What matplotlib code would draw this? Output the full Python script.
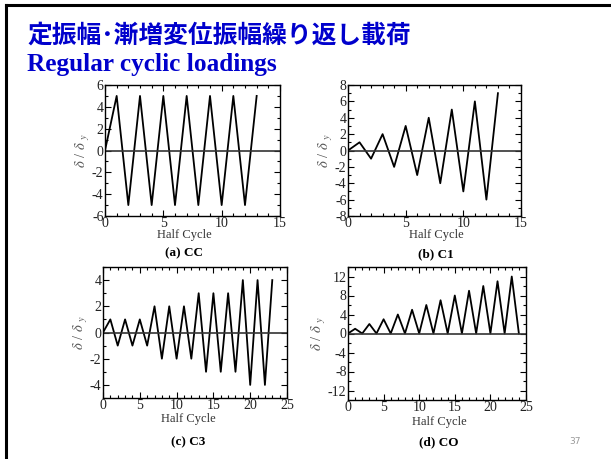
import numpy as np
import matplotlib.pyplot as plt
from matplotlib.ticker import MultipleLocator
from matplotlib.lines import Line2D

plt.rcParams['font.family'] = ['Liberation Serif', 'DejaVu Serif']
plt.rcParams['mathtext.fontset'] = 'stix'
plt.rcParams['axes.unicode_minus'] = False

# half cycle -> normalised displacement
cc_x = list(range(14))
cc_y = [0, 5, -5, 5, -5, 5, -5, 5, -5, 5, -5, 5, -5, 5]

c1_x = list(range(14))
c1_y = [0, 1, -1, 2, -2, 3, -3, 4, -4, 5, -5, 6, -6, 7]

c3_x = list(range(24))
c3_y = [0, 1, -1, 1, -1, 1, -1, 2, -2, 2, -2, 2, -2,
        3, -3, 3, -3, 3, -3, 4, -4, 4, -4, 4]

co_x = list(range(25))
co_y = [0, 1, 0, 2, 0, 3, 0, 4, 0, 5, 0, 6, 0, 7, 0, 8, 0, 9, 0, 10, 0, 11, 0, 12, 0]

captions = ['(a) CC', '(b) C1', '(c) C3', '(d) CO']

W, H = 611, 459
fig = plt.figure(figsize=(W / 100, H / 100), dpi=100)


def box(l, t, r, b):
    return [l / W, 1 - b / H, (r - l) / W, (b - t) / H]


def setup(ax, x, y, xlim, xmaj, ylim, ymaj, ymin, caption, cap_x, cap_y, hc_y):
    ax.plot(x, y, color='black', lw=1.3)
    ax.axhline(0, color='#333333', lw=1.2)
    ax.set_xlim(*xlim)
    ax.set_ylim(*ylim)
    ax.xaxis.set_major_locator(MultipleLocator(xmaj))
    ax.xaxis.set_minor_locator(MultipleLocator(1))
    ax.yaxis.set_major_locator(MultipleLocator(ymaj))
    ax.yaxis.set_minor_locator(MultipleLocator(ymin))
    ax.tick_params(which='both', direction='in', top=True, right=True,
                   labelsize=10, pad=1, width=0.8, labelcolor='#222222')
    ax.tick_params(which='major', length=4)
    ax.tick_params(which='minor', length=2)
    for s in ax.spines.values():
        s.set_linewidth(1.0)
    ax.set_ylabel(r'$\delta$ / $\delta$ $_{y}$', fontsize=10.5, color='#555555', labelpad=0)
    fig.text(cap_x / W, 1 - hc_y / H, 'Half Cycle', ha='center', va='center',
             fontsize=9, color='#333333')
    fig.text(cap_x / W, 1 - cap_y / H, caption, ha='center', va='center',
             fontsize=9.5, fontweight='bold')


ax1 = fig.add_axes(box(105, 85, 280, 216))
setup(ax1, cc_x, cc_y, (0, 15), 5, (-6, 6), 2, 1, captions[0], 184, 253, 235)
ax2 = fig.add_axes(box(348, 85, 521, 216))
setup(ax2, c1_x, c1_y, (0, 15), 5, (-8, 8), 2, 1, captions[1], 436, 254, 235)
ax3 = fig.add_axes(box(103, 267, 287, 398))
setup(ax3, c3_x, c3_y, (0, 25), 5, (-5, 5), 2, 1, captions[2], 188, 442, 419)
ax4 = fig.add_axes(box(348, 267, 526, 400))
setup(ax4, co_x, co_y, (0, 25), 5, (-14, 14), 4, 2, captions[3], 439, 442, 422)

# slide frame and titles
fig.add_artist(Line2D([6 / W, 6 / W], [0, 1 - 5 / H], color='black', lw=2.2))
fig.add_artist(Line2D([6 / W, 1], [1 - 5 / H, 1 - 5 / H], color='black', lw=2.2))
fig.text(27 / W, 1 - 36 / H, '定振幅･漸増変位振幅繰り返し載荷', ha='left', va='center',
         fontsize=17.8, fontweight='bold', color='#0000cc',
         family=['Noto Sans CJK JP', 'DejaVu Sans'])
fig.text(27 / W, 1 - 65 / H, 'Regular cyclic loadings', ha='left', va='center',
         fontsize=18.2, fontweight='bold', color='#0000cc')
fig.text(575 / W, 1 - 442 / H, '37', ha='center', va='center', fontsize=6.5,
         color='#999999', family='DejaVu Sans')

fig.savefig('out.png', dpi=100)
